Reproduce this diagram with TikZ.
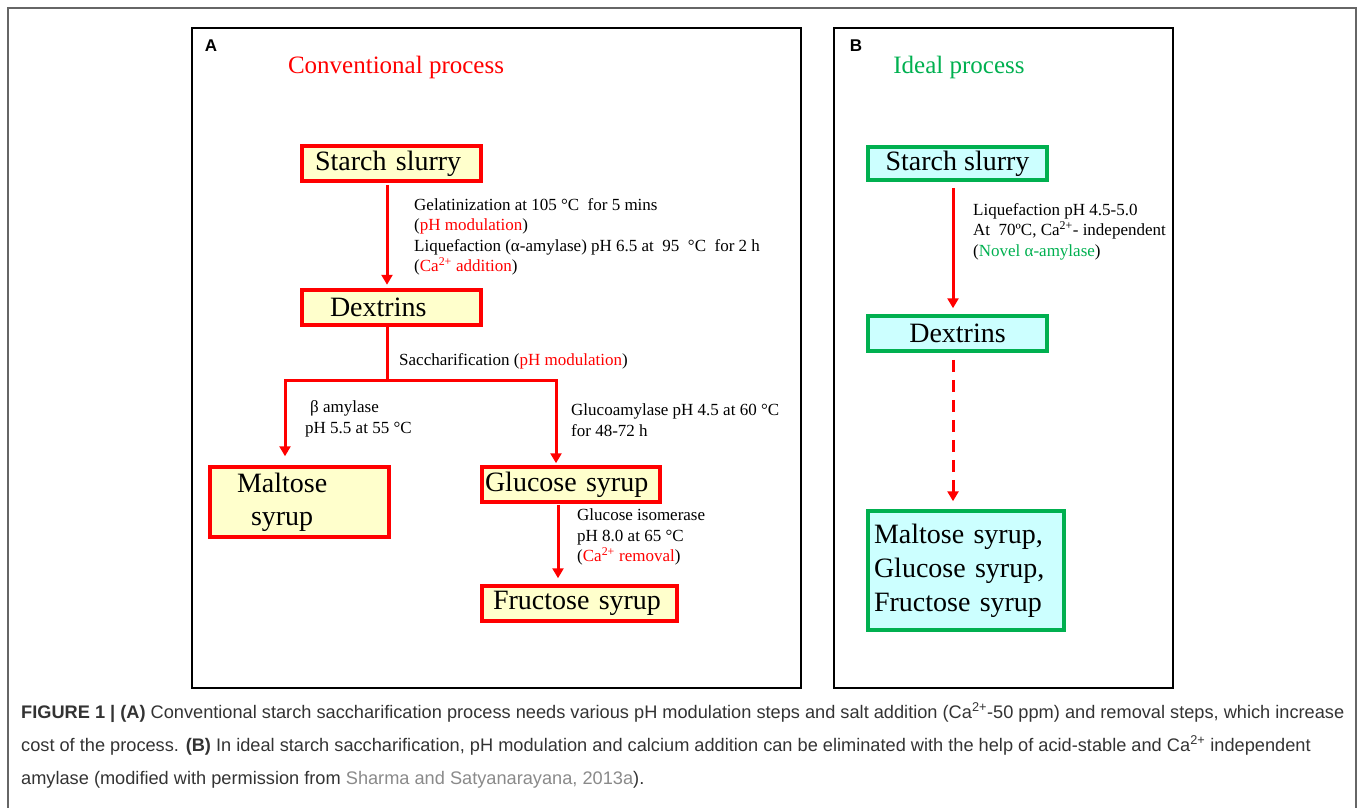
\documentclass[tikz,border=0pt]{standalone}
\usepackage{fontspec}
\setmainfont{Liberation Serif}
\newfontfamily\capfont{Liberation Sans}
\usetikzlibrary{arrows.meta}
\definecolor{myred}{HTML}{FF0000}
\definecolor{mygreen}{HTML}{00B050}
\definecolor{yelfill}{HTML}{FFFFCC}
\definecolor{cyanfill}{HTML}{CCFFFF}
\definecolor{capgray}{HTML}{333333}
\definecolor{linkgray}{HTML}{8A8A8A}
\definecolor{framegray}{HTML}{666666}
\begin{document}
\begin{tikzpicture}[x=1pt,y=-1pt,
  redbox/.style={draw=myred, fill=yelfill, line width=3.5pt, font=\fontsize{28}{33}\selectfont, inner ysep=0pt, align=left},
  greenbox/.style={draw=mygreen, fill=cyanfill, line width=3.5pt, font=\fontsize{28}{34}\selectfont, inner ysep=0pt},
  lbl/.style={font=\fontsize{17}{20.5}\selectfont, align=left, anchor=west, inner sep=0pt},
  title/.style={font=\fontsize{25}{30}\selectfont, inner sep=0pt},
  panellbl/.style={font=\capfont\bfseries\fontsize{17}{20}\selectfont, inner sep=0pt},
  panel/.style={draw=black, line width=1.8pt},
  redline/.style={draw=myred, line width=3pt, line join=miter},
  arr/.style={redline, -{Triangle[width=11pt,length=10pt]}},
  capline/.style={font=\capfont\fontsize{18.2}{21}\selectfont, text=capgray, anchor=base west, inner sep=0pt},
]
\useasboundingbox (0,0) rectangle (1357,808);
% outer frame
\draw[framegray, line width=2pt] (8,808) -- (8,8) -- (1356,8) -- (1356,808);
% panels
\draw[panel] (192,28) rectangle (801,688);
\draw[panel] (834,28) rectangle (1173,688);
\node[panellbl] (labA) at (211,46) {A};
\node[panellbl] (labB) at (856,46) {B};
\node[title, text=myred] (tA) at (396,67) {Conventional process};
\node[title, text=mygreen] (tB) at (959,67) {Ideal process};

% Panel A boxes
\node[redbox, minimum height=35pt, inner xsep=13pt, text width=153pt] (sA) at (391.5,163.5) {Starch slurry};
\node[redbox, minimum height=35pt, inner xsep=28pt, text width=123pt] (dA) at (391.5,307.5) {Dextrins};
\node[redbox, minimum height=70pt, inner xsep=27pt, text width=125pt] (mA) at (299.5,502) {Maltose\\\hspace*{14pt}syrup};
\node[redbox, minimum height=35pt, inner xsep=3pt, text width=172pt] (gA) at (571,484.5) {Glucose syrup};
\node[redbox, minimum height=35pt, inner xsep=11pt, text width=173pt] (fA) at (579.5,603.5) {Fructose syrup};

% Panel A labels
\node[lbl] (l1) at (414,237) {Gelatinization at 105 °C\ \ for 5 mins\\(\textcolor{myred}{pH modulation})\\Liquefaction (α-amylase) pH 6.5 at\ \ 95\ \ °C\ \ for 2 h\\(\textcolor{myred}{Ca\textsuperscript{2+} addition})};
\node[lbl] (l2) at (399,361) {Saccharification (\textcolor{myred}{pH modulation})};
\node[lbl] (l3) at (305,419) {\hspace*{5pt}β amylase\\pH 5.5 at 55 °C};
\node[lbl] (l4) at (571,420) {Glucoamylase pH 4.5 at 60 °C\\for 48-72 h};
\node[lbl] (l5) at (577,537) {Glucose isomerase\\pH 8.0 at 65 °C\\(\textcolor{myred}{Ca\textsuperscript{2+} removal})};

% Panel A connectors
\draw[arr] ([xshift=-4.5pt,yshift=-2pt]sA.south) -- ([xshift=-4.5pt,yshift=3.5pt]dA.north);
\coordinate (split) at (387,380);
\draw[redline] ([xshift=-4.5pt]dA.south) -- (split);
\draw[arr] (split) -| ([xshift=-14.5pt,yshift=9pt]mA.north);
\draw[arr] (split) -| ([xshift=-15pt,yshift=2pt]gA.north);
\draw[arr] ([xshift=-13pt,yshift=-1pt]gA.south) -- ([xshift=-21.5pt,yshift=6pt]fA.north);

% Panel B boxes
\node[greenbox, minimum width=179pt, minimum height=33pt] (sB) at (957.5,163.5) {Starch slurry};
\node[greenbox, minimum width=179pt, minimum height=35pt] (dB) at (957.5,333.5) {Dextrins};
\node[greenbox, minimum height=119pt, inner xsep=6pt, text width=184pt, align=left] (fB) at (966,570.5) {Maltose syrup,\\Glucose syrup,\\Fructose syrup};

\node[lbl] (lB) at (973,231.5) {Liquefaction pH 4.5-5.0\\At\ \ 70ºC, Ca\textsuperscript{2+}- independent\\(\textcolor{mygreen}{Novel α-amylase})};

\draw[arr] ([xshift=-4.5pt,yshift=-6pt]sB.south) -- ([xshift=-4.5pt,yshift=6pt]dB.north);
\draw[arr, dash pattern=on 12pt off 8pt] ([xshift=-4.5pt,yshift=-7pt]dB.south) -- ([xshift=-13pt,yshift=8pt]fB.north);

% caption
\node[capline] (c1) at (21,718) {\textbf{FIGURE 1 | (A)} Conventional starch saccharification process needs various pH modulation steps and salt addition (Ca\textsuperscript{2+}-50 ppm) and removal steps, which increase};
\node[capline] (c2) at (21,751) {cost of the process. \textbf{(B)} In ideal starch saccharification, pH modulation and calcium addition can be eliminated with the help of acid-stable and Ca\textsuperscript{2+} independent};
\node[capline] (c3) at (21,784) {amylase (modified with permission from \textcolor{linkgray}{Sharma and Satyanarayana, 2013a}).};
\end{tikzpicture}
\end{document}
